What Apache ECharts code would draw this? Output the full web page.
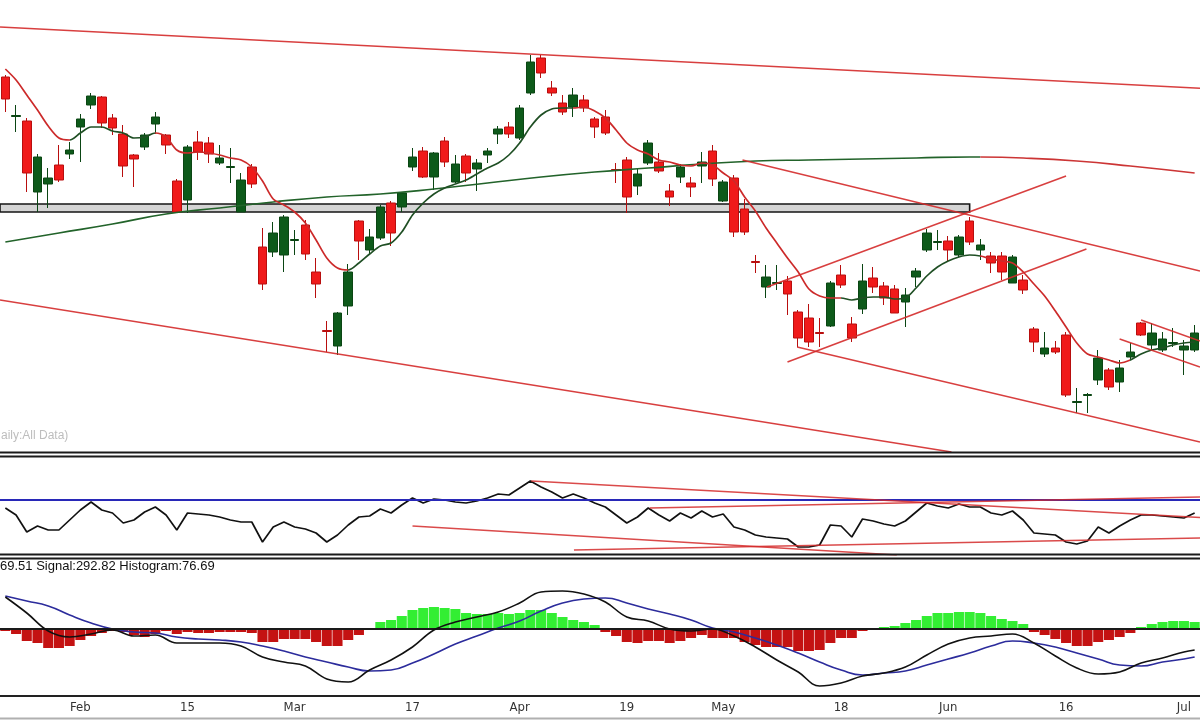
<!DOCTYPE html>
<html><head><meta charset="utf-8">
<script src="https://cdn.jsdelivr.net/npm/echarts@6/dist/echarts.min.js"></script>
<style>html,body{margin:0;padding:0;background:#fff}#c{width:1200px;height:720px}</style>
</head><body><div id="c"></div>
<script>
// ---------- DATA ----------
const dates = ['2022-01-20','2022-01-21','2022-01-24','2022-01-25','2022-01-27','2022-01-28','2022-01-31',
'2022-02-01','2022-02-02','2022-02-03','2022-02-04','2022-02-07','2022-02-08','2022-02-09','2022-02-10','2022-02-11','2022-02-14','2022-02-15','2022-02-16','2022-02-17','2022-02-18','2022-02-21','2022-02-22','2022-02-23','2022-02-24','2022-02-25','2022-02-28',
'2022-03-02','2022-03-03','2022-03-04','2022-03-07','2022-03-08','2022-03-09','2022-03-10','2022-03-11','2022-03-14','2022-03-15','2022-03-16','2022-03-17','2022-03-21','2022-03-22','2022-03-23','2022-03-24','2022-03-25','2022-03-28','2022-03-29','2022-03-30','2022-03-31',
'2022-04-01','2022-04-04','2022-04-05','2022-04-06','2022-04-07','2022-04-08','2022-04-11','2022-04-12','2022-04-13','2022-04-18','2022-04-19','2022-04-20','2022-04-21','2022-04-22','2022-04-25','2022-04-26','2022-04-27','2022-04-28','2022-04-29',
'2022-05-02','2022-05-04','2022-05-05','2022-05-06','2022-05-09','2022-05-10','2022-05-11','2022-05-12','2022-05-13','2022-05-16','2022-05-17','2022-05-18','2022-05-19','2022-05-20','2022-05-23','2022-05-24','2022-05-25','2022-05-26','2022-05-27','2022-05-30','2022-05-31',
'2022-06-01','2022-06-02','2022-06-03','2022-06-06','2022-06-07','2022-06-08','2022-06-09','2022-06-10','2022-06-13','2022-06-14','2022-06-15','2022-06-16','2022-06-17','2022-06-20','2022-06-21','2022-06-22','2022-06-23','2022-06-24','2022-06-27','2022-06-28','2022-06-29','2022-06-30',
'2022-07-01','2022-07-04'];

const tickLabels = {'2022-02-01':'Feb','2022-02-15':'15','2022-03-02':'Mar','2022-03-17':'17','2022-04-01':'Apr',
  '2022-04-19':'19','2022-05-02':'May','2022-05-18':'18','2022-06-01':'Jun','2022-06-16':'16','2022-07-01':'Jul'};

const open = [17884,17568,17532,16964,17028,17180,17268,
17484,17660,17724,17556,17428,17260,17324,17508,17420,17052,
16900,17364,17356,17196,17160,16804,17164,16524,16484,16460,
16576,16700,16324,15856,15732,16052,16732,16500,16596,16876,
16844,17164,17292,17084,17372,17044,17252,17148,17260,17428,
17484,17396,17756,18036,17796,17676,17644,17700,17548,17564,
17144,17220,17012,17196,17204,16972,17084,17036,17172,17292,
16892,17076,16828,16408,16204,16232,16252,16004,15956,15840,
15892,16300,15908,16028,16276,16212,16188,16084,16284,16500,
16560,16572,16460,16732,16500,16452,16452,16236,16260,15868,
15668,15716,15820,15280,15336,15460,15540,15444,15644,15916,
15740,15700,15752,15700,15700];

const close = [17708,17576,17116,17244,17076,17060,17300,
17548,17732,17516,17476,17172,17228,17420,17564,17340,16804,
17324,17284,17268,17236,17168,17060,17028,16228,16636,16764,
16584,16468,16228,15848,15996,16324,16572,16604,16844,16636,
16956,17244,17084,17276,17204,17188,17116,17196,17292,17468,
17428,17636,18004,17916,17756,17604,17740,17636,17484,17436,
17136,16924,17108,17356,17132,16924,17164,17004,17204,17068,
17044,16644,16644,16400,16284,16240,16148,15796,15764,15832,
16236,16220,15796,16252,16204,16116,15996,16140,16332,16636,
16568,16500,16604,16564,16540,16396,16324,16444,16180,15764,
15716,15684,15340,15288,15344,15636,15404,15556,15684,15820,
15836,15788,15760,15732,15836];

const low = [17604,17444,16964,16804,16836,17044,17228,
17204,17628,17476,17420,17084,17004,17300,17428,17268,16796,
16796,17220,17196,17180,17036,16804,16996,16180,16444,16324,
16460,16420,16116,15684,15660,15980,16420,16460,16580,16532,
16804,17132,17076,16980,17164,17036,17044,16972,17196,17348,
17396,17380,17740,17876,17732,17580,17564,17604,17396,17420,
17036,16796,16940,17180,17116,16852,17036,16924,17036,17012,
16884,16604,16620,16316,16116,16180,15980,15724,15724,15724,
15884,16196,15764,15988,16156,16060,15996,15884,16204,16484,
16500,16412,16444,16540,16420,16316,16260,16236,16148,15684,
15644,15668,15324,15196,15196,15420,15380,15364,15620,15812,
15700,15684,15724,15500,15684];

const high = [17900,17660,17556,17268,17156,17340,17364,
17588,17756,17732,17588,17500,17268,17436,17604,17428,17068,
17340,17452,17404,17340,17316,17116,17188,16676,16724,16780,
16660,16740,16436,15932,16004,16388,16740,16668,16860,16892,
16964,17316,17324,17284,17404,17260,17268,17228,17316,17492,
17524,17660,18060,18060,17852,17740,17796,17740,17564,17620,
17196,17244,17156,17380,17276,17028,17188,17084,17284,17340,
17060,17100,16908,16460,16380,16380,16292,16020,16068,15956,
16252,16380,15964,16388,16364,16244,16220,16196,16356,16668,
16660,16612,16620,16764,16588,16484,16484,16460,16300,15884,
15844,15772,15844,15396,15356,15700,15556,15620,15756,15924,
15916,15844,15876,15780,15900];

// short moving average (one value per session)
const maShort = [17948,17860,17740,17620,17492,17396,17380,
17436,17484,17484,17452,17436,17396,17404,17436,17404,17300,
17276,17284,17276,17260,17236,17220,17164,17052,16908,16860,
16804,16716,16580,16436,16356,16340,16396,16468,16532,16556,
16644,16780,16876,16948,16996,17028,17060,17108,17156,17196,
17260,17356,17484,17580,17628,17636,17636,17644,17612,17556,
17460,17356,17300,17268,17220,17204,17180,17172,17196,17180,
17116,17052,16924,16812,16676,16556,16436,16324,16188,16132,
16116,16116,16100,16116,16124,16124,16108,16116,16196,16292,
16364,16412,16444,16460,16452,16428,16412,16396,16324,16228,
16132,16012,15884,15756,15668,15644,15620,15596,15620,15668,
15700,15716,15740,15756,15764];
// session indexes where the short MA changes colour (starts red)
const maShortTurns = [6,14,32,53,78,91,105];

// long moving average, read every few sessions [session index, value]
const maLongUp = [[0,16564],[5,16636],[10,16708],[15,16788],[20,16836],[25,16884],[30,16924],[35,16948],
  [40,16988],[45,17036],[50,17084],[55,17124],[60,17156],[65,17188],[70,17212],[75,17220],[80,17228],
  [85,17236],[90,17244],[91,17244]];
const maLongDown = [[91,17244],[95,17236],[100,17212],[105,17172],[111,17116]];

// drawn trend lines on the price panel [[index, price],[index, price]]
const trendMain = [
  [[-0.5,18284],[111.5,17794]],
  [[-0.5,16100],[88.3,14884]],
  [[68.8,17220],[111.5,16332]],
  [[71.1,16204],[99.0,17092]],
  [[73.0,15604],[100.9,16508]],
  [[73.9,15724],[111.5,14964]],
  [[106.0,15940],[111.5,15772]],
  [[104.0,15788],[111.5,15564]]
];
const band = [[-0.5,16868],[90.0,16804]];

// oscillator panel
const rsi = [44.4,39.5,27.6,31.8,29.0,29.0,36.0,
43.0,48.6,43.0,40.9,33.9,36.0,41.6,45.1,39.5,29.0,
40.9,40.2,39.5,38.1,36.0,34.6,34.6,20.6,31.1,34.6,
31.1,29.7,26.9,20.6,25.5,32.5,38.1,38.8,43.7,40.9,
46.5,51.4,47.9,50.7,50.0,48.6,47.9,49.3,51.4,54.2,
53.5,58.4,63.3,59.1,55.6,51.4,54.2,51.4,47.9,45.1,
39.5,33.9,38.1,44.4,39.5,35.3,40.9,37.4,42.3,38.1,
40.2,31.1,29.0,25.5,24.1,23.4,22.7,17.1,17.1,18.5,
32.5,31.8,24.1,36.7,35.3,33.2,31.8,35.3,41.6,47.9,
45.8,44.4,47.2,45.1,45.1,40.9,39.5,42.3,36.0,26.9,
26.2,25.5,20.6,19.2,21.3,31.1,26.9,31.8,36.0,39.5,
39.5,38.8,38.1,37.4,40.9];
const rsiLevel = 50;
const trendRsi = [
  [[49.08,63.3],[111.5,37.8]],
  [[60.15,44.4],[111.5,52.1]],
  [[38.0,31.8],[83.2,11.5]],
  [[53.07,15.0],[111.5,23.4]]
];

// MACD panel
const hist = [-20,-50,-120,-140,-190,-190,-170,
-110,-70,-40,-20,-30,-60,-80,-50,-20,-50,
-30,-40,-40,-30,-30,-30,-40,-130,-130,-100,
-100,-100,-130,-170,-170,-110,-60,-10,70,90,
130,190,210,220,210,200,160,150,150,160,
150,160,190,190,160,120,90,70,40,-30,
-70,-130,-140,-120,-120,-140,-120,-90,-60,-90,
-90,-90,-130,-160,-180,-180,-180,-220,-220,-210,
-140,-90,-90,-20,-10,20,30,60,90,130,
160,160,170,170,160,130,100,80,50,-30,
-60,-100,-140,-170,-170,-130,-110,-80,-40,20,
50,70,80,80,70];
const macd = [[0,320],[2,160],[4,-20],[6,-80],[8,-50],[10,-10],[12,-70],[14,-60],[16,-140],[18,-140],[20,-140],
[22,-170],[24,-280],[26,-330],[28,-370],[30,-500],[32,-530],[34,-410],[36,-310],[38,-180],[40,-10],[42,70],
[44,120],[46,170],[48,260],[50,370],[52,380],[54,350],[56,270],[58,120],[60,80],[62,0],[64,-20],[66,0],
[68,-70],[70,-180],[72,-310],[74,-430],[76,-570],[78,-540],[80,-470],[82,-440],[84,-380],[86,-260],[88,-150],
[90,-90],[92,-70],[94,-50],[96,-140],[98,-270],[100,-390],[102,-450],[104,-430],[106,-340],[108,-290],[110,-230],[111,-210]];
const signal = [[0,330],[2,280],[4,230],[6,140],[8,60],[10,0],[12,-30],[14,-40],[16,-80],[18,-100],[20,-110],
[22,-130],[24,-170],[26,-220],[28,-280],[30,-330],[32,-380],[34,-420],[36,-410],[38,-340],[40,-250],[42,-150],
[44,-70],[46,10],[48,80],[50,180],[52,260],[54,300],[56,310],[58,260],[60,200],[62,150],[64,90],[66,10],
[68,-30],[70,-90],[72,-160],[74,-240],[76,-330],[78,-410],[80,-460],[82,-440],[84,-420],[86,-360],[88,-300],
[90,-240],[92,-170],[94,-120],[96,-140],[98,-180],[100,-240],[102,-300],[104,-360],[106,-370],[108,-330],[110,-300],[111,-280]];
const macdText = '69.51 Signal:292.82 Histogram:76.69';
const titleText = 'aily:All Data)';

// ---------- CHART ----------
const RED = '#d42a2a';
const N = dates.length;
const X0 = -0.5, X1 = N - 0.5;
const GL = 0, GW = 1204;

const series = [];
series.push({type:'line', xAxisIndex:1, yAxisIndex:0, data: band, showSymbol:false, silent:true, z:1,
  lineStyle:{opacity:0},
  markArea:{silent:true, itemStyle:{color:'#d4d4d4', borderColor:'#141414', borderWidth:1.6},
    data:[[{coord:band[0]},{coord:band[1]}]]}});
series.push({type:'candlestick', xAxisIndex:0, yAxisIndex:0, barWidth:9, z:3, silent:true,
  data: dates.map((d,i)=>[open[i],close[i],low[i],high[i]]),
  itemStyle:{color:'#0d5a1a', color0:'#f01a1a', borderColor:'#0a4513', borderColor0:'#b80e0e', borderWidth:1}});
series.push({type:'line', xAxisIndex:1, yAxisIndex:0, data: maLongUp, showSymbol:false, smooth:true, silent:true, z:4,
  lineStyle:{color:'#22632a', width:1.7}});
series.push({type:'line', xAxisIndex:1, yAxisIndex:0, data: maLongDown, showSymbol:false, smooth:true, silent:true, z:4,
  lineStyle:{color:'#cc3535', width:1.7}});
const maShortIndex = series.length;
series.push({type:'line', xAxisIndex:1, yAxisIndex:0, data: maShort.map((v,i)=>[i,v]), showSymbol:false, smooth:0.3,
  silent:true, z:4, lineStyle:{width:1.7}});
trendMain.forEach(seg => series.push({type:'line', xAxisIndex:1, yAxisIndex:0, data: seg, showSymbol:false, silent:true, z:5,
  lineStyle:{color:RED, width:1.6, opacity:0.9}}));

series.push({type:'line', xAxisIndex:2, yAxisIndex:1, data: rsi.map((v,i)=>[i,v]), showSymbol:false, silent:true, z:3,
  lineStyle:{color:'#111', width:1.7},
  markLine:{symbol:'none', silent:true, label:{show:false}, lineStyle:{color:'#2828b8', width:2, type:'solid'},
    data:[{yAxis: rsiLevel}]}});
trendRsi.forEach(seg => series.push({type:'line', xAxisIndex:2, yAxisIndex:1, data: seg, showSymbol:false, silent:true, z:5,
  lineStyle:{color:RED, width:1.6, opacity:0.85}}));

series.push({type:'bar', xAxisIndex:3, yAxisIndex:2, silent:true, barCategoryGap:'6%', z:2,
  data: hist.map(v=>({value:v, itemStyle:{color: v>=0 ? '#33ee33' : '#c41212'}})),
  markLine:{symbol:'none', silent:true, label:{show:false}, lineStyle:{color:'#1a1a1a', width:2, type:'solid'},
    data:[{yAxis:0}]}});
series.push({type:'line', xAxisIndex:4, yAxisIndex:2, data: signal, showSymbol:false, smooth:true, silent:true, z:4,
  lineStyle:{color:'#2c2c9c', width:1.6}});
series.push({type:'line', xAxisIndex:4, yAxisIndex:2, data: macd, showSymbol:false, smooth:0.4, silent:true, z:5,
  lineStyle:{color:'#111', width:1.6}});

const pieces = [];
let prev = -1, red = true;
maShortTurns.concat([N]).forEach(t => {
  pieces.push({gte: prev, lt: t, color: red ? '#cc2a2a' : '#1f4f24'});
  prev = t; red = !red;
});

const hiddenVal = g => ({type:'value', gridIndex:g, min:X0, max:X1, show:false, axisLine:{onZero:false}});
const isTick = (i, v) => tickLabels[v] !== undefined;

const option = {
  animation:false,
  backgroundColor:'#ffffff',
  grid:[
    {left:GL, width:GW, top:0, height:452},
    {left:GL, width:GW, top:457, height:98},
    {left:GL, width:GW, top:560, height:136}
  ],
  xAxis:[
    {type:'category', gridIndex:0, data:dates, show:false, axisLine:{onZero:false}},
    hiddenVal(0),
    hiddenVal(1),
    {type:'category', gridIndex:2, data:dates, boundaryGap:true,
      axisLine:{onZero:false, lineStyle:{color:'#222', width:2}},
      axisTick:{alignWithLabel:true, interval:isTick, length:4, lineStyle:{color:'#222', width:1}},
      axisLabel:{interval:isTick, formatter:v=>tickLabels[v]||'', color:'#333', fontSize:13, margin:5,
        fontFamily:'"Liberation Sans Narrow","DejaVu Sans Condensed","Liberation Sans",sans-serif'},
      splitLine:{show:false}},
    hiddenVal(2)
  ],
  yAxis:[
    {type:'value', gridIndex:0, min:14884, max:18500, show:false},
    {type:'value', gridIndex:1, min:11.5, max:80.1, show:false},
    {type:'value', gridIndex:2, min:-670, max:690, show:false}
  ],
  visualMap:[{type:'piecewise', show:false, dimension:0, seriesIndex:maShortIndex, pieces:pieces}],
  graphic:[
    {type:'line', silent:true, z:100, shape:{x1:0,y1:452.5,x2:1200,y2:452.5}, style:{stroke:'#1a1a1a', lineWidth:2}},
    {type:'line', silent:true, z:100, shape:{x1:0,y1:456.5,x2:1200,y2:456.5}, style:{stroke:'#1a1a1a', lineWidth:2}},
    {type:'line', silent:true, z:100, shape:{x1:0,y1:554.5,x2:1200,y2:554.5}, style:{stroke:'#1a1a1a', lineWidth:2}},
    {type:'line', silent:true, z:100, shape:{x1:0,y1:558.5,x2:1200,y2:558.5}, style:{stroke:'#1a1a1a', lineWidth:2}},
    {type:'line', silent:true, z:100, shape:{x1:0,y1:718.5,x2:1200,y2:718.5}, style:{stroke:'#b0b0b0', lineWidth:2}},
    {type:'text', silent:true, z:100, left:1, top:430, style:{text:titleText, fill:'#bdbdbd', font:'12px "Liberation Sans", Arial, sans-serif'}},
    {type:'text', silent:true, z:100, left:0, top:560, style:{text:macdText, fill:'#111', font:'13px "Liberation Sans", Arial, sans-serif'}}
  ],
  series:series
};
const chart = echarts.init(document.getElementById('c'), null, {renderer:'canvas'});
chart.setOption(option);
</script>
</body></html>
